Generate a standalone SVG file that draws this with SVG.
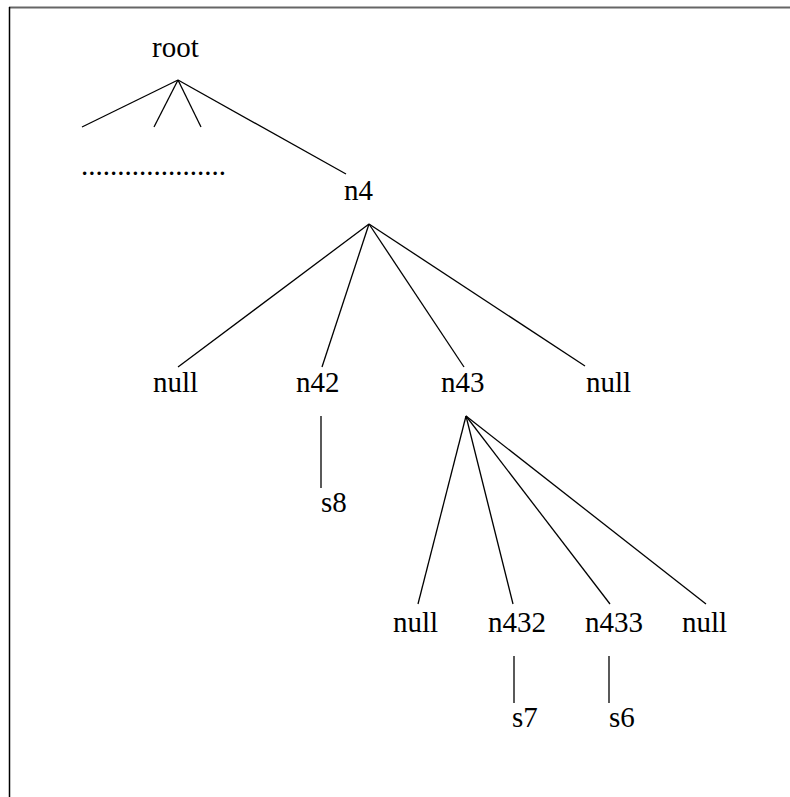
<svg xmlns="http://www.w3.org/2000/svg" width="790" height="797" viewBox="0 0 790 797">
  <style>
    .edge { stroke: #000; stroke-width: 1.3; fill: none; }
  </style>
  <rect x="0" y="0" width="790" height="797" fill="#fff"/>
  <!-- frame -->
  <line x1="9" y1="7.5" x2="790" y2="7.5" stroke="#666" stroke-width="2"/>
  <line x1="9.5" y1="7" x2="9.5" y2="797" stroke="#000" stroke-width="1.5"/>

  <g id="connectors">
    <line class="edge" x1="178" y1="80" x2="82" y2="127"/>
    <line class="edge" x1="178" y1="80" x2="154" y2="127"/>
    <line class="edge" x1="178" y1="80" x2="201" y2="127"/>
    <line class="edge" x1="178" y1="80" x2="346" y2="174"/>

    <line class="edge" x1="369" y1="224" x2="178" y2="367"/>
    <line class="edge" x1="369" y1="224" x2="322" y2="367"/>
    <line class="edge" x1="369" y1="224" x2="464" y2="367"/>
    <line class="edge" x1="369" y1="224" x2="585" y2="366"/>

    <line class="edge" x1="321" y1="416" x2="321" y2="488"/>

    <line class="edge" x1="466" y1="416" x2="418" y2="604"/>
    <line class="edge" x1="466" y1="416" x2="513" y2="604"/>
    <line class="edge" x1="466" y1="416" x2="610" y2="604"/>
    <line class="edge" x1="466" y1="416" x2="706" y2="604"/>

    <line class="edge" x1="514" y1="656" x2="514" y2="703"/>
    <line class="edge" x1="609" y1="656" x2="609" y2="703"/>
  </g>

  <!-- node labels -->
  <g font-family="'Liberation Serif', 'Times New Roman', serif" font-size="29" fill="#000">
    <g id="root"><text x="152" y="57">root</text></g>
    <g id="ellipsis"><text x="81" y="175">....................</text></g>
    <g id="n4"><text x="344" y="200">n4</text></g>
    <g id="null-1"><text x="153" y="392">null</text></g>
    <g id="n42"><text x="296" y="392">n42</text></g>
    <g id="n43"><text x="441" y="392">n43</text></g>
    <g id="null-2"><text x="586" y="392">null</text></g>
    <g id="s8"><text x="321" y="512">s8</text></g>
    <g id="null-3"><text x="393" y="632">null</text></g>
    <g id="n432"><text x="488" y="632">n432</text></g>
    <g id="n433"><text x="585" y="632">n433</text></g>
    <g id="null-4"><text x="682" y="632">null</text></g>
    <g id="s7"><text x="512" y="727">s7</text></g>
    <g id="s6"><text x="609" y="727">s6</text></g>
  </g>
</svg>
